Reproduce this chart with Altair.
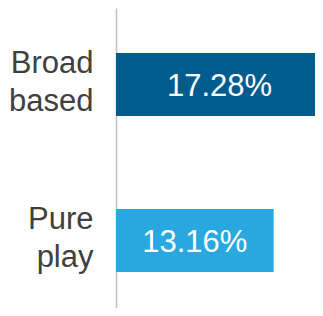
import altair as alt
import pandas as pd

categories = ["Broad based", "Pure play"]
values = [17.28, 13.16]
labels = ["17.28%", "13.16%"]
colors = ["#005b8e", "#29a8df"]

df = pd.DataFrame({"cat": categories, "value": values, "label": labels, "color": colors})

yscale = alt.Scale(paddingInner=0.596, paddingOuter=0.2596, align=0.556)
xscale = alt.Scale(domain=[0, 16.61], nice=False)

y = alt.Y(
    "cat:N",
    sort=categories,
    title=None,
    scale=yscale,
    axis=alt.Axis(
        labelExpr="split(datum.label, ' ')",
        labelFontSize=31,
        labelFont="Liberation Sans",
        labelColor="#404040",
        labelLineHeight=38,
        labelPadding=23,
        labelBaseline="alphabetic",
        labelOffset=-11.5,
        ticks=False,
        domainColor="#bfbfbf",
        domainWidth=1.5,
    ),
)

bars = alt.Chart(df).mark_bar(clip=True).encode(
    x=alt.X("value:Q", scale=xscale, axis=None),
    y=y,
    color=alt.Color("color:N", scale=None),
)

text = alt.Chart(df).transform_calculate(mid="datum.value / 2").mark_text(
    font="Liberation Sans", fontSize=31, color="white", align="center",
    baseline="alphabetic", dy=11.5
).encode(
    x=alt.X("mid:Q", scale=xscale, axis=None),
    y=alt.Y("cat:N", sort=categories),
    text="label:N",
)

chart = (bars + text).properties(
    width=199,
    height=300,
    autosize=alt.AutoSizeParams(type="none"),
    padding={"left": 108, "top": 0, "right": 0, "bottom": 0},
).configure_view(stroke=None)

chart.save("out.html", embed_options={"renderer": "svg", "actions": False})
